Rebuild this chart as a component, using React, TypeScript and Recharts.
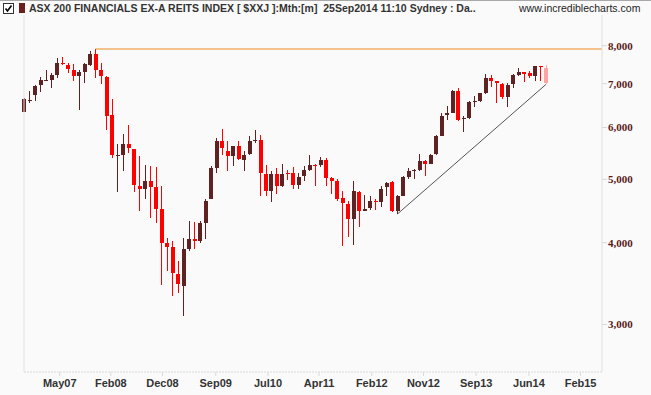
import { ComposedChart, Bar, XAxis, YAxis, ReferenceLine } from "recharts";

// monthly candles, Oct 2006 .. Sep 2014 (last one is the month in progress)
const open = [
  6346, 6590, 6716, 6956, 7073, 7100, 7229, 7517, 7480, 7349, 7180, 7300,
  7480, 7778, 7349, 7173, 6259, 5418, 5437, 5666, 5556, 4886, 4840, 4974,
  4870, 4511, 4002, 3940, 3588, 3440, 3919, 4055, 4025, 4294, 4673, 5206,
  5724, 5528, 5418, 5614, 5342, 5456, 5719, 5734, 5098, 4796, 5098, 4882,
  5118, 5112, 4892, 5066, 5174, 5264, 5249, 5360, 5027, 4977, 4684, 4587,
  4346, 4784, 4479, 4527, 4635, 4624, 4858, 4944, 4479, 4718, 5049, 5157,
  5174, 5327, 5283, 5464, 5827, 6267, 6312, 6828, 6180, 6193, 6568, 6590,
  6763, 7130, 7055, 6998, 6669, 6990, 7205, 7282, 7257, 7180, 7438, 7404,
];
const high = [
  6650, 6820, 6973, 7173, 7349, 7257, 7669, 7696, 7535, 7506, 7355, 7525,
  7860, 7908, 7525, 7197, 6638, 5666, 5868, 6058, 5570, 5431, 5249, 5243,
  5219, 4886, 4069, 4026, 3750, 4073, 4320, 4305, 4318, 4668, 5243, 5786,
  5973, 5724, 5625, 5724, 5528, 5813, 5941, 5837, 5249, 5152, 5206, 5280,
  5174, 5224, 5118, 5243, 5438, 5282, 5399, 5380, 5035, 5000, 4804, 4637,
  4978, 4790, 4729, 4718, 4673, 4886, 4961, 4977, 4725, 5066, 5201, 5180,
  5464, 5360, 5470, 5841, 6312, 6461, 6835, 6900, 6252, 6590, 6692, 6772,
  7249, 7220, 7073, 7016, 7016, 7240, 7396, 7300, 7326, 7445, 7445, 7480,
];
const low = [
  6330, 6540, 6575, 6787, 7060, 6883, 7130, 7475, 7257, 7072, 6377, 7006,
  7438, 7130, 6990, 5937, 5380, 4773, 5157, 5494, 4773, 4479, 4668, 4370,
  4294, 3448, 3620, 3317, 3356, 3087, 3880, 3919, 3998, 4059, 4660, 5103,
  5437, 5157, 5243, 5342, 5139, 5440, 5673, 4720, 4720, 4624, 4746, 4870,
  4996, 4824, 4840, 4978, 5152, 4886, 5219, 4890, 4751, 4630, 3954, 4088,
  3974, 4234, 4475, 4492, 4492, 4543, 4720, 4453, 4428, 4712, 5003, 5012,
  5157, 5067, 5280, 5438, 5813, 6150, 6305, 6128, 5895, 6180, 6447, 6568,
  6740, 6907, 6529, 6638, 6438, 6883, 7180, 7047, 7147, 7073, 7073, 6981,
];
const close = [
  6630, 6620, 6949, 7093, 7093, 7220, 7517, 7490, 7370, 7180, 7300, 7490,
  7778, 7355, 7180, 6252, 5437, 5437, 5666, 5573, 4892, 4840, 4974, 4870,
  4511, 4002, 3946, 3601, 3457, 3914, 4050, 4025, 4294, 4637, 5201, 5719,
  5573, 5418, 5614, 5374, 5438, 5724, 5734, 5103, 4796, 5098, 4882, 5098,
  5103, 4892, 5049, 5174, 5249, 5246, 5342, 5027, 4977, 4663, 4598, 4355,
  4806, 4479, 4501, 4635, 4618, 4830, 4933, 4475, 4718, 5049, 5152, 5174,
  5336, 5283, 5438, 5827, 6252, 6312, 6828, 6165, 6200, 6568, 6596, 6763,
  7147, 7055, 7016, 6669, 6973, 7205, 7282, 7249, 7180, 7438, 7410, 7016,
];

const priceTicks = [3000, 4000, 5000, 6000, 7000, 8000];
const dateTickLabels = ["May07", "Feb08", "Dec08", "Sep09", "Jul10", "Apr11", "Feb12", "Nov12", "Sep13", "Jun14", "Feb15"];
const dateTickMonths = [6.5, 15.8, 25.2, 34.9, 44.4, 53.7, 63.3, 72.7, 82.3, 91.9, 101.3];

const peakMonth = 13; // Nov 2007 high
const trendFrom = 68; // Jun 2012 low
const trendTo = 95;
const xMax = 105.2;

const UP = "#5e2222";
const DOWN = "#ff0000";
const PARTIAL = "#ffa3a3";

const data = open.map((o, i) => ({
  i,
  open: o,
  high: high[i],
  low: low[i],
  close: close[i],
  range: [low[i], high[i]],
}));

const Candle = (props: any) => {
  const { x, y, width, height, payload } = props;
  if (!payload || height == null) return null;
  const { open: o, close: c, high: h, low: l, i } = payload;
  const lh = Math.log(h);
  const span = lh - Math.log(l) || 1;
  const toY = (v: number) => y + (height * (lh - Math.log(v))) / span;
  const cx = x + width / 2;
  const color = i === open.length - 1 ? PARTIAL : c >= o ? UP : DOWN;
  const top = toY(Math.max(o, c));
  const bh = Math.max(1, toY(Math.min(o, c)) - top);
  return (
    <g shapeRendering="crispEdges">
      <rect x={cx - 0.5} y={y} width={1} height={height} fill={color} />
      <rect x={cx - 2} y={top} width={4} height={bh} fill={color} />
    </g>
  );
};

export default function App() {
  return (
    <div
      style={{
        position: "absolute",
        left: 0,
        top: 0,
        width: 651,
        height: 395,
        background: "#fafafa",
        borderTop: "1px solid #a8a8a8",
        boxSizing: "border-box",
        overflow: "hidden",
      }}
    >
      <svg width={12} height={12} style={{ position: "absolute", left: 3, top: 2 }}>
        <rect x={0.5} y={0.5} width={10} height={10} fill="#fff" stroke="#333" />
        <path d="M2.5 5.5 L4.5 8 L8.5 2.5" fill="none" stroke="#000" strokeWidth={1.6} />
      </svg>
      <div style={{ position: "absolute", left: 19, top: 2, width: 6, height: 10, background: "#6b2020" }} />
      <div
        style={{
          position: "absolute",
          left: 29,
          top: 0,
          fontFamily: "'Liberation Sans', Arial, sans-serif",
          fontWeight: "bold",
          fontSize: 10.5,
          lineHeight: "14px",
          color: "#333",
          whiteSpace: "pre",
        }}
      >
        ASX 200 FINANCIALS EX-A REITS INDEX [ $XXJ ]:Mth:[m]  25Sep2014 11:10 Sydney : Da..
      </div>
      <div
        style={{
          position: "absolute",
          left: 519,
          top: 0,
          fontFamily: "'Liberation Sans', Arial, sans-serif",
          fontSize: 10.5,
          lineHeight: "14px",
          color: "#222",
          whiteSpace: "pre",
        }}
      >
        www.incrediblecharts.com
      </div>
      <div style={{ position: "absolute", left: 0, top: -1 }}>
        <ComposedChart width={651} height={395} data={data} margin={{ top: 15, right: 0, bottom: 0, left: 24 }}>
          <ReferenceLine x={0} stroke="#e2e2e2" />
          <XAxis
            type="number"
            dataKey="i"
            domain={[0, xMax]}
            ticks={dateTickMonths}
            tickFormatter={(v: number) => dateTickLabels[dateTickMonths.indexOf(v)] ?? ""}
            height={23}
            interval={0}
            stroke="#dadada"
            axisLine={{ stroke: "#dadada", strokeDasharray: "2 1" }}
            tickLine={{ stroke: "#dadada" }}
            tickSize={4}
            tickMargin={3}
            tick={{ fill: "#333", fontSize: 11, fontWeight: "bold", fontFamily: "'Liberation Sans', Arial, sans-serif" }}
          />
          <YAxis
            orientation="right"
            type="number"
            scale="log"
            domain={[2538, 8913]}
            allowDataOverflow
            ticks={priceTicks}
            interval={0}
            width={49}
            tickFormatter={(v: number) => v.toLocaleString("en-US")}
            axisLine={{ stroke: "#e0e0e0" }}
            tickLine={{ stroke: "#d8d8d8" }}
            tickSize={5}
            tickMargin={1}
            tick={{ fill: "#5c1a1a", fontSize: 11, fontWeight: "bold", fontFamily: "'Liberation Serif', 'Times New Roman', serif" }}
          />
          <Bar dataKey="range" barSize={4} isAnimationActive={false} shape={(p: any) => <Candle {...p} />} />
          <ReferenceLine
            segment={[
              { x: peakMonth, y: high[peakMonth] },
              { x: xMax, y: high[peakMonth] },
            ]}
            stroke="#f0891e"
            strokeWidth={1}
          />
          <ReferenceLine
            segment={[
              { x: trendFrom, y: low[trendFrom] },
              { x: trendTo, y: low[trendTo] },
            ]}
            stroke="#555"
            strokeWidth={1}
          />
        </ComposedChart>
      </div>
    </div>
  );
}
